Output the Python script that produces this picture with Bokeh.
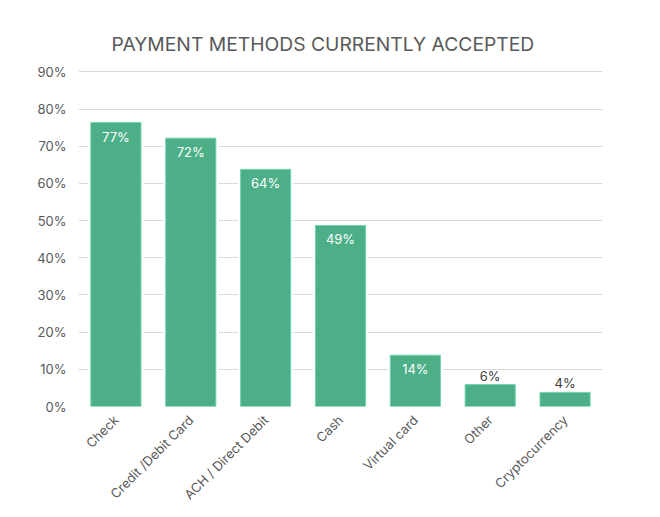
import math
from bokeh.plotting import figure
from bokeh.models import ColumnDataSource, Range1d, FixedTicker
from bokeh.embed import file_html
from bokeh.resources import INLINE
from bokeh.core.properties import value

methods = ["Check", "Credit /Debit Card", "ACH / Direct Debit", "Cash",
           "Virtual card", "Other", "Cryptocurrency"]
shares = [76.4, 72.2, 63.8, 48.7, 13.8, 5.9, 3.8]
share_labels = ["77%", "72%", "64%", "49%", "14%", "6%", "4%"]
y_ticks = [0, 10, 20, 30, 40, 50, 60, 70, 80, 90]

FONT = "Inter"
GREEN = "#4caf88"

# big bars carry their label inside (white), small ones above (dark)
inside = [s >= 10 for s in shares]
source = ColumnDataSource(data={
    'method': methods,
    'share': shares,
    'label': share_labels,
    'label_color': ["white" if i else "#404040" for i in inside],
    'label_base': ["top" if i else "bottom" for i in inside],
    'label_off': [6 if i else -1 for i in inside],
})

p = figure(x_range=methods, y_range=Range1d(0, 90.4),
           frame_width=524, frame_height=336, output_backend="svg",
           toolbar_location=None, title="PAYMENT METHODS CURRENTLY ACCEPTED")
p.min_border_left = 78
p.min_border_right = 50
p.min_border_top = 70
p.min_border_bottom = 10
p.outline_line_color = None
p.background_fill_color = "white"
p.border_fill_color = "white"

p.title.align = "left"
p.title.offset = 33
p.title.text_font = FONT
p.title.text_font_size = "19.3px"
p.title.text_font_style = "normal"
p.title.text_color = "#595959"
p.title.standoff = 30

p.xgrid.visible = False
p.ygrid.grid_line_color = "#d9d9d9"
p.ygrid.grid_line_width = 1

p.yaxis.ticker = FixedTicker(ticks=y_ticks)
p.yaxis.major_label_overrides = {t: "%d%%" % t for t in y_ticks}
for ax in (p.xaxis, p.yaxis):
    ax.axis_line_color = None
    ax.major_tick_line_color = None
    ax.minor_tick_line_color = None
    ax.major_tick_out = 0
    ax.major_tick_in = 0
    ax.major_label_text_font = FONT
    ax.major_label_text_font_size = "13px"
    ax.major_label_text_color = "#595959"
p.yaxis.major_label_standoff = 12
p.xaxis.major_label_orientation = math.pi / 4
p.xaxis.major_label_standoff = 11

# white halo behind each bar, then the bar itself
p.vbar(x='method', top='share', width=0.67, source=source,
       fill_color=GREEN, line_color="white", line_width=5)
p.vbar(x='method', top='share', width=0.67, source=source,
       fill_color=GREEN, line_color="#72d4b0", line_width=1)

p.text(x='method', y='share', text='label', source=source,
       text_color='label_color', text_baseline='label_base',
       y_offset='label_off', text_align="center",
       text_font=value(FONT), text_font_size="13px")

open("out.html", "w").write(file_html(p, INLINE))
